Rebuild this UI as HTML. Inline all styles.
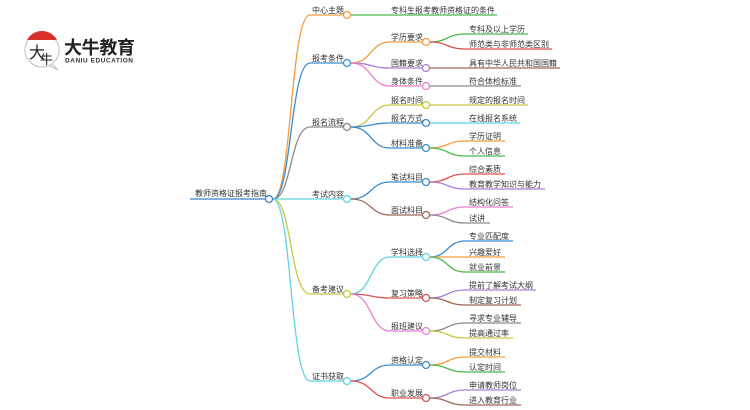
<!DOCTYPE html>
<html><head><meta charset="utf-8"><style>
html,body{margin:0;padding:0;background:#fff;width:750px;height:410px;overflow:hidden}
svg{display:block}
text{font-family:"Liberation Sans","Noto Sans CJK SC",sans-serif;font-size:8px;fill:#333}
path{fill:none;stroke-width:1.3}
circle{fill:#fff;stroke-width:1.3}
</style></head><body>
<svg width="750" height="410" viewBox="0 0 750 410" xmlns="http://www.w3.org/2000/svg">
<!-- logo -->
<circle cx="42" cy="50" r="17" stroke="#ccc" stroke-width="1" fill="#fff"/>
<path d="M27 40 A17 17 0 0 1 57 40 Z" fill="#d9302c" stroke="none" style="fill:#d9302c"/>
<path d="M52 64 L58 70 L50 66" stroke="#ccc" stroke-width="1"/>
<text x="29" y="58" style="font-size:16px;fill:#222">大</text>
<text x="40" y="64" style="font-size:13px;fill:#222">牛</text>
<text x="64" y="54" textLength="71" style="font-size:18px;font-weight:bold;fill:#222">大牛教育</text>
<text x="65" y="62.5" textLength="68" style="font-size:6.5px;fill:#333;font-weight:bold">DANIU EDUCATION</text>

<!-- root -->
<path d="M190 199 H265" stroke="#3b7fc4" stroke-width="2"/>
<text x="195" y="196">教师资格证报考指南</text>

<!-- root -> L1 -->
<path d="M273 199 C292 199 290 15 310 15 H343" stroke="#f39c3d"/>
<path d="M273 199 C292 199 290 63 310 63 H343" stroke="#3b8bd0"/>
<path d="M273 199 C292 199 290 127 310 127 H343" stroke="#8a8a8a"/>
<path d="M273 199 H343" stroke="#5fd3e3"/>
<path d="M273 199 C292 199 290 294 310 294 H343" stroke="#c8c840"/>
<path d="M273 199 C292 199 290 381 310 381 H343" stroke="#5fd3e3"/>
<circle cx="269" cy="199" r="3.5" stroke="#3b7fc4"/>

<text x="312" y="13">中心主题</text>
<text x="312" y="61">报考条件</text>
<text x="312" y="125">报名流程</text>
<text x="312" y="197">考试内容</text>
<text x="312" y="292">备考建议</text>
<text x="312" y="379">证书获取</text>

<!-- L1 -> L2 -->
<path d="M351 15 H497" stroke="#4cb84c"/>
<text x="391" y="13">专科生报考教师资格证的条件</text>

<path d="M351 63 C372 63 370 42 390 42 H422" stroke="#f39c3d"/>
<path d="M351 63 C372 63 370 68 390 68 H422" stroke="#a87fd6"/>
<path d="M351 63 C372 63 370 86 390 86 H422" stroke="#ea7fd0"/>
<path d="M351 127 C372 127 370 105 390 105 H422" stroke="#c8c840"/>
<path d="M351 127 C372 127 370 123 390 123 H422" stroke="#3b8bd0"/>
<path d="M351 127 C372 127 370 148 390 148 H422" stroke="#3b8bd0"/>
<path d="M351 199 C372 199 370 182 390 182 H422" stroke="#3b8bd0"/>
<path d="M351 199 C372 199 370 215 390 215 H422" stroke="#a0685a"/>
<path d="M351 294 C372 294 370 257 390 257 H422" stroke="#5fd3e3"/>
<path d="M351 294 C372 294 370 298 390 298 H422" stroke="#e05050"/>
<path d="M351 294 C372 294 370 331 390 331 H422" stroke="#ea7fd0"/>
<path d="M351 381 C372 381 370 365 390 365 H422" stroke="#3b8bd0"/>
<path d="M351 381 C372 381 370 398 390 398 H422" stroke="#e05050"/>

<circle cx="347" cy="15" r="3.5" stroke="#f39c3d"/>
<circle cx="347" cy="63" r="3.5" stroke="#3b8bd0"/>
<circle cx="347" cy="127" r="3.5" stroke="#8a8a8a"/>
<circle cx="347" cy="199" r="3.5" stroke="#5fd3e3"/>
<circle cx="347" cy="294" r="3.5" stroke="#c8c840"/>
<circle cx="347" cy="381" r="3.5" stroke="#5fd3e3"/>

<text x="391" y="40">学历要求</text>
<text x="391" y="66">国籍要求</text>
<text x="391" y="84">身体条件</text>
<text x="391" y="103">报名时间</text>
<text x="391" y="121">报名方式</text>
<text x="391" y="146">材料准备</text>
<text x="391" y="180">笔试科目</text>
<text x="391" y="213">面试科目</text>
<text x="391" y="255">学科选择</text>
<text x="391" y="296">复习策略</text>
<text x="391" y="329">报班建议</text>
<text x="391" y="363">资格认定</text>
<text x="391" y="396">职业发展</text>

<!-- L2 -> L3 -->
<path d="M430 42 C448 42 447 34 465 34 H528" stroke="#4cb84c"/>
<path d="M430 42 C448 42 447 49 465 49 H552" stroke="#e05050"/>
<path d="M430 68 H560" stroke="#a0685a"/>
<path d="M430 86 H521" stroke="#8a8a8a"/>
<path d="M430 105 H528" stroke="#c8c840"/>
<path d="M430 123 H520" stroke="#5fd3e3"/>
<path d="M430 148 C448 148 447 141 465 141 H505" stroke="#f39c3d"/>
<path d="M430 148 C448 148 447 156 465 156 H505" stroke="#4cb84c"/>
<path d="M430 182 C448 182 447 174 465 174 H505" stroke="#e05050"/>
<path d="M430 182 C448 182 447 189 465 189 H545" stroke="#a87fd6"/>
<path d="M430 215 C448 215 447 207 465 207 H513" stroke="#ea7fd0"/>
<path d="M430 215 C448 215 447 223 465 223 H490" stroke="#8a8a8a"/>
<path d="M430 257 C448 257 447 241 465 241 H513" stroke="#3b8bd0"/>
<path d="M430 257 H505" stroke="#f39c3d"/>
<path d="M430 257 C448 257 447 272 465 272 H505" stroke="#4cb84c"/>
<path d="M430 298 C448 298 447 290 465 290 H536" stroke="#a87fd6"/>
<path d="M430 298 C448 298 447 305 465 305 H521" stroke="#a0685a"/>
<path d="M430 331 C448 331 447 323 465 323 H521" stroke="#8a8a8a"/>
<path d="M430 331 C448 331 447 338 465 338 H513" stroke="#c8c840"/>
<path d="M430 365 C448 365 447 357 465 357 H505" stroke="#f39c3d"/>
<path d="M430 365 C448 365 447 372 465 372 H505" stroke="#4cb84c"/>
<path d="M430 398 C448 398 447 390 465 390 H521" stroke="#a87fd6"/>
<path d="M430 398 C448 398 447 405 465 405 H521" stroke="#a0685a"/>

<circle cx="426" cy="42" r="3.5" stroke="#f39c3d"/>
<circle cx="426" cy="68" r="3.5" stroke="#a87fd6"/>
<circle cx="426" cy="86" r="3.5" stroke="#ea7fd0"/>
<circle cx="426" cy="105" r="3.5" stroke="#c8c840"/>
<circle cx="426" cy="123" r="3.5" stroke="#3b8bd0"/>
<circle cx="426" cy="148" r="3.5" stroke="#3b8bd0"/>
<circle cx="426" cy="182" r="3.5" stroke="#3b8bd0"/>
<circle cx="426" cy="215" r="3.5" stroke="#a0685a"/>
<circle cx="426" cy="257" r="3.5" stroke="#5fd3e3"/>
<circle cx="426" cy="298" r="3.5" stroke="#e05050"/>
<circle cx="426" cy="331" r="3.5" stroke="#ea7fd0"/>
<circle cx="426" cy="365" r="3.5" stroke="#3b8bd0"/>
<circle cx="426" cy="398" r="3.5" stroke="#e05050"/>

<text x="469" y="32">专科及以上学历</text>
<text x="469" y="47">师范类与非师范类区别</text>
<text x="469" y="66">具有中华人民共和国国籍</text>
<text x="469" y="84">符合体检标准</text>
<text x="469" y="103">规定的报名时间</text>
<text x="469" y="121">在线报名系统</text>
<text x="469" y="139">学历证明</text>
<text x="469" y="154">个人信息</text>
<text x="469" y="172">综合素质</text>
<text x="469" y="187">教育教学知识与能力</text>
<text x="469" y="205">结构化问答</text>
<text x="469" y="221">试讲</text>
<text x="469" y="239">专业匹配度</text>
<text x="469" y="255">兴趣爱好</text>
<text x="469" y="270">就业前景</text>
<text x="469" y="288">提前了解考试大纲</text>
<text x="469" y="303">制定复习计划</text>
<text x="469" y="321">寻求专业辅导</text>
<text x="469" y="336">提高通过率</text>
<text x="469" y="355">提交材料</text>
<text x="469" y="370">认定时间</text>
<text x="469" y="388">申请教师岗位</text>
<text x="469" y="403">进入教育行业</text>
</svg>
</body></html>
